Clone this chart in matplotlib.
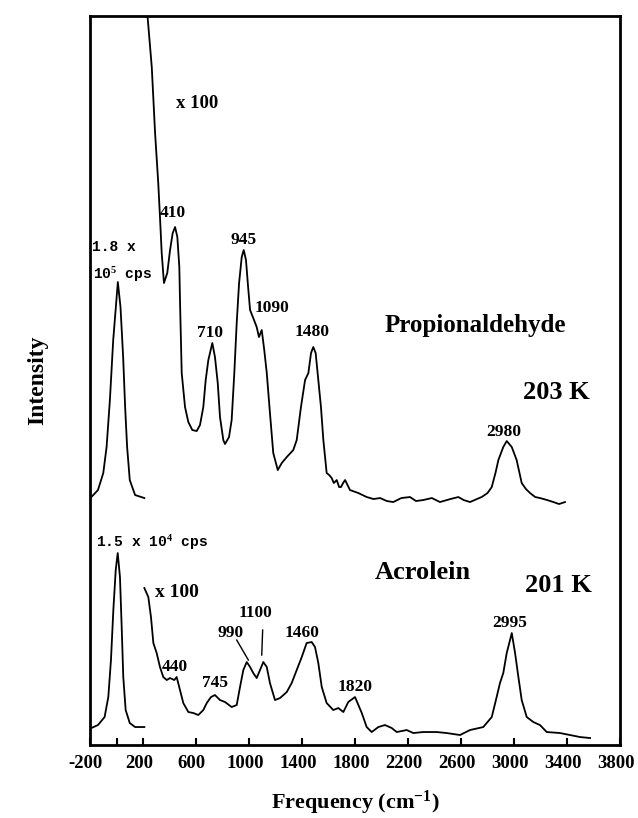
import matplotlib
matplotlib.use("Agg")
import matplotlib.pyplot as plt
from matplotlib.transforms import ScaledTranslation

plt.rcParams['font.family'] = ['Liberation Serif', 'DejaVu Serif']
plt.rcParams['font.weight'] = 'bold'
plt.rcParams['axes.unicode_minus'] = False
plt.rcParams['mathtext.fontset'] = 'custom'
plt.rcParams['mathtext.rm'] = 'Liberation Serif:bold'
plt.rcParams['mathtext.it'] = 'Liberation Serif:bold'
plt.rcParams['mathtext.bf'] = 'Liberation Serif:bold'

# Propionaldehyde, 203 K -- Rayleigh line (x1)
prop_ray_x = [-190, -140, -100, -75, -50, -25, -5, 10, 30, 50, 65, 80, 100, 140, 210]
prop_ray_y = [248, 255, 272, 298, 345, 405, 438, 463, 438, 388, 338, 298, 265, 250, 247]

# Propionaldehyde, 203 K -- x100 trace
prop_x = [227, 266, 291, 315, 328, 341, 358, 383, 404, 424, 442, 459, 474, 479, 492,
          517, 542, 572, 605, 630, 655, 673, 693, 723, 743, 764, 781, 806, 819, 849,
          869, 889, 907, 925, 945, 960, 977, 995, 1008, 1032, 1058, 1075, 1096, 1115,
          1134, 1158, 1183, 1217, 1247, 1285, 1334, 1360, 1392, 1423, 1448, 1468, 1485,
          1503, 1523, 1543, 1561, 1586, 1605, 1624, 1640, 1662, 1680, 1694, 1710, 1725,
          1762, 1825, 1888, 1940, 1989, 2040, 2089, 2150, 2215, 2260, 2315, 2380, 2441,
          2520, 2580, 2620, 2668, 2720, 2756, 2800, 2832, 2860, 2882, 2919, 2945, 2983,
          3020, 3058, 3090, 3121, 3160, 3196, 3250, 3297, 3340, 3385]
prop_y = [740, 678, 612, 562, 528, 492, 462, 472, 495, 512, 518, 508, 478, 445, 372,
          338, 323, 315, 314, 320, 338, 365, 385, 402, 388, 362, 328, 305, 301, 308,
          325, 372, 422, 462, 488, 495, 485, 455, 435, 427, 418, 408, 415, 395,
          372, 332, 292, 275, 282, 288, 295, 305, 338, 365, 372, 392, 398,
          392, 365, 338, 305, 272, 270, 267, 262, 265, 258, 258, 262, 265,
          255, 252, 248, 246, 247, 244, 243, 247, 248, 244, 245, 247, 243,
          246, 248, 245, 243, 246, 248, 252, 258, 272, 285, 298, 304, 298,
          285, 262, 256, 252, 248, 247, 245, 243, 241, 243]

# Acrolein, 201 K -- Rayleigh line (x1)
acr_ray_x = [-190, -140, -90, -62, -42, -24, -6, 9, 26, 39, 51, 69, 100, 140, 210]
acr_ray_y = [17, 20, 28, 48, 85, 135, 175, 192, 168, 118, 68, 35, 22, 18, 18]

# Acrolein, 201 K -- x100 trace
acr_x = [210, 240, 260, 278, 303, 328, 353, 379, 404, 436, 454, 479, 504, 542, 580,
         617, 655, 681, 713, 743, 781, 819, 869, 907, 932, 957, 983, 1008, 1032, 1058,
         1083, 1108, 1134, 1158, 1196, 1234, 1285, 1322, 1360, 1398, 1435, 1473, 1498,
         1523, 1549, 1586, 1636, 1674, 1712, 1749, 1800, 1851, 1888, 1926, 1976, 2026,
         2077, 2115, 2190, 2240, 2315, 2417, 2492, 2592, 2668, 2768, 2832, 2869, 2894,
         2919, 2945, 2970, 2983, 3008, 3033, 3058, 3096, 3146, 3196, 3247, 3347, 3423,
         3498, 3574]
acr_y = [157, 148, 128, 102, 92, 78, 68, 65, 67, 65, 68, 55, 42, 33, 32,
         30, 35, 42, 48, 50, 45, 43, 38, 40, 58, 75, 83, 78, 72, 67,
         75, 83, 78, 62, 45, 47, 53, 62, 75, 88, 102, 103, 98,
         82, 58, 42, 35, 37, 33, 43, 48, 32, 18, 13, 18, 20,
         17, 13, 15, 12, 13, 13, 12, 10, 15, 18, 28, 48, 62,
         72, 92, 105, 112, 92, 68, 45, 28, 23, 20, 13, 12, 10,
         8, 7]

# peak labels: (text, x, y)
prop_labels = [("410", 424, 532), ("945", 957, 505), ("1090", 1171, 437),
               ("710", 706, 412), ("1480", 1473, 413), ("2980", 2919, 313)]
acr_labels = [("440", 442, 78), ("745", 743, 62), ("990", 857, 112),
              ("1100", 1045, 132), ("1460", 1398, 112), ("1820", 1800, 58),
              ("2995", 2970, 122)]

fig = plt.figure(figsize=(6.38, 8.18), dpi=100)
ax = fig.add_axes([0.1411, 0.0892, 0.8307, 0.8912])

lw = 1.3
ax.plot(prop_ray_x, prop_ray_y, color='black', lw=lw)
ax.plot(prop_x, prop_y, color='black', lw=lw)
ax.plot(acr_ray_x, acr_ray_y, color='black', lw=lw)
ax.plot(acr_x, acr_y, color='black', lw=lw)

ax.set_xlim(-200, 3800)
ax.set_ylim(0, 729)

for txt, x, y in prop_labels + acr_labels:
    ax.text(x, y, txt, ha='center', va='center', fontsize=12.5)

# leader lines for 990 and 1100
ax.plot([907, 995], [105, 85], color='black', lw=1.0)
ax.plot([1103, 1096], [115, 90], color='black', lw=1.0)

ax.text(605, 642, "x 100", ha='center', va='center', fontsize=13.5)
ax.text(454, 153, "x 100", ha='center', va='center', fontsize=14)

mono = ['Liberation Mono', 'DejaVu Sans Mono']
ax.text(-182, 498, "1.8 x", ha='left', va='center', fontsize=10.5, family=mono)
ax.text(-180, 470, "10$^{5}$ cps", ha='left', va='center', fontsize=10.5, family=mono)
ax.text(266, 202, "1.5 x 10$^{4}$ cps", ha='center', va='center', fontsize=10.5,
        family=mono)

ax.text(2706, 420, "Propionaldehyde", ha='center', va='center', fontsize=18)
ax.text(3322, 353, "203 K", ha='center', va='center', fontsize=19)
ax.text(2315, 173, "Acrolein", ha='center', va='center', fontsize=19)
ax.text(3335, 160, "201 K", ha='center', va='center', fontsize=19)

ax.set_xticks(range(-200, 3801, 400))
ax.set_xticks([0], minor=True)
ax.set_yticks([])
ax.tick_params(axis='x', which='both', direction='in', length=5, width=1.5,
               labelsize=13.5, pad=7, top=False)
shift = ScaledTranslation(-3 / 72, 0, fig.dpi_scale_trans)
for lab in ax.get_xticklabels():
    lab.set_fontweight('bold')
    lab.set_transform(lab.get_transform() + shift)
for sp in ax.spines.values():
    sp.set_linewidth(2)

ax.set_xlabel("Frequency (cm$^{-1}$)", fontsize=16, fontweight='bold', labelpad=12)
ax.set_ylabel("Intensity", fontsize=17, fontweight='bold', labelpad=30)

fig.savefig("out.png", dpi=100)
